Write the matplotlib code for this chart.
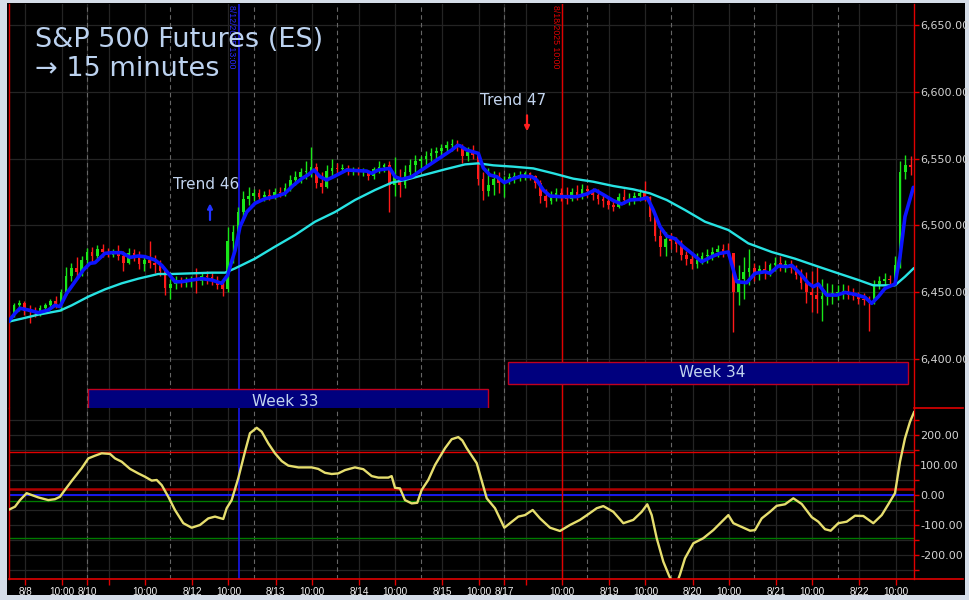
import numpy as np
import matplotlib
matplotlib.use("Agg")
import matplotlib.pyplot as plt
from matplotlib.patches import Rectangle
from matplotlib.lines import Line2D

# ---------------- DATA ----------------
# time axis unit: one trading session (18:00 -> 17:00, 23 h); session 0 starts Sun 8/10 18:00
candle_step = 1 / 16  # one candle per 1/16 session
candle_first_t = -15 / 16
candle_open0 = 6430
candle_close = [
    6434, 6440, 6442, 6436, 6435, 6434, 6438, 6440, 6443, 6440,
    6450, 6462, 6468, 6465, 6474, 6480, 6477, 6482, 6480, 6478,
    6480, 6477, 6472, 6479, 6477, 6471, 6474, 6472, 6470, 6466,
    6453, 6456, 6458, 6457, 6459, 6460, 6458, 6462, 6461, 6458,
    6455, 6452, 6488, 6495, 6510, 6520, 6522, 6524, 6521, 6523,
    6521, 6525, 6524, 6528, 6534, 6536, 6540, 6541, 6544, 6532,
    6529, 6541, 6543, 6542, 6543, 6541, 6542, 6540, 6540, 6537,
    6542, 6544, 6545, 6530, 6536, 6530, 6540, 6545, 6548, 6550,
    6552, 6554, 6556, 6558, 6560, 6561, 6559, 6552, 6555, 6553,
    6535, 6526, 6530, 6535, 6532, 6534, 6536, 6537, 6538, 6539,
    6537, 6532, 6522, 6518, 6522, 6524, 6522, 6520, 6525, 6523,
    6527, 6526, 6523, 6520, 6518, 6515, 6514, 6521, 6519, 6520,
    6522, 6524, 6521, 6506, 6492, 6484, 6490, 6488, 6486, 6478,
    6475, 6471, 6474, 6477, 6478, 6480, 6482, 6480, 6479, 6450,
    6460, 6465, 6468, 6464, 6467, 6465, 6470, 6472, 6470, 6471,
    6468, 6463, 6457, 6450, 6448, 6445, 6447, 6448, 6449, 6450,
    6451, 6448, 6447, 6445, 6444, 6442, 6456, 6458, 6460, 6459,
    6470, 6540, 6545, 6544]
candle_high = [
    6436, 6442, 6444, 6443, 6440, 6439, 6440, 6442, 6445, 6447,
    6452, 6469, 6472, 6476, 6477, 6483, 6484, 6485, 6486, 6483,
    6482, 6485, 6481, 6483, 6482, 6481, 6478, 6488, 6478, 6474,
    6467, 6460, 6462, 6461, 6461, 6462, 6468, 6464, 6466, 6465,
    6462, 6458, 6499, 6500, 6514, 6526, 6529, 6527, 6527, 6526,
    6527, 6528, 6529, 6532, 6538, 6541, 6543, 6548, 6559, 6547,
    6540, 6545, 6550, 6547, 6546, 6545, 6544, 6544, 6543, 6541,
    6544, 6548, 6547, 6548, 6551, 6542, 6545, 6550, 6553, 6552,
    6556, 6558, 6559, 6561, 6563, 6565, 6564, 6561, 6559, 6560,
    6555, 6540, 6543, 6541, 6540, 6537, 6539, 6540, 6541, 6541,
    6540, 6538, 6534, 6527, 6526, 6528, 6528, 6529, 6528, 6530,
    6531, 6530, 6528, 6527, 6524, 6522, 6520, 6524, 6527, 6524,
    6525, 6527, 6533, 6522, 6508, 6497, 6495, 6494, 6491, 6489,
    6481, 6480, 6479, 6480, 6482, 6484, 6485, 6486, 6487, 6479,
    6470, 6476, 6482, 6472, 6470, 6473, 6472, 6476, 6477, 6474,
    6474, 6470, 6467, 6465, 6466, 6469, 6460, 6457, 6456, 6455,
    6456, 6455, 6453, 6450, 6449, 6447, 6459, 6462, 6464, 6463,
    6477, 6548, 6553, 6552]
candle_low = [
    6427, 6431, 6436, 6433, 6427, 6431, 6432, 6435, 6437, 6438,
    6436, 6448, 6458, 6460, 6462, 6470, 6472, 6474, 6476, 6476,
    6476, 6474, 6466, 6471, 6473, 6467, 6466, 6468, 6464, 6462,
    6448, 6445, 6452, 6454, 6454, 6454, 6449, 6455, 6456, 6455,
    6452, 6447, 6450, 6472, 6490, 6504, 6515, 6518, 6518, 6518,
    6519, 6520, 6521, 6522, 6526, 6530, 6532, 6535, 6536, 6528,
    6524, 6528, 6537, 6539, 6539, 6538, 6538, 6538, 6537, 6534,
    6535, 6539, 6540, 6510, 6522, 6521, 6528, 6537, 6540, 6541,
    6544, 6547, 6550, 6552, 6555, 6556, 6556, 6547, 6548, 6550,
    6530, 6519, 6522, 6523, 6524, 6521, 6531, 6532, 6533, 6534,
    6534, 6528, 6517, 6514, 6516, 6518, 6518, 6516, 6518, 6519,
    6520, 6521, 6519, 6516, 6514, 6512, 6511, 6513, 6516, 6515,
    6516, 6518, 6518, 6503, 6488, 6477, 6477, 6482, 6480, 6474,
    6470, 6467, 6468, 6471, 6472, 6474, 6476, 6476, 6477, 6420,
    6440, 6445, 6455, 6458, 6459, 6460, 6462, 6466, 6466, 6465,
    6464, 6460, 6452, 6442, 6435, 6434, 6428, 6440, 6441, 6444,
    6445, 6445, 6444, 6441, 6440, 6421, 6441, 6452, 6455, 6455,
    6455, 6468, 6535, 6538]

fast_ma_t = [-0.944, -0.863, -0.803, -0.704, -0.584, -0.464, -0.384, -0.324, -0.243, -0.144,
             -0.044, 0.036, 0.096, 0.216, 0.296, 0.416, 0.516, 0.615, 0.695, 0.815,
             0.896, 0.975, 1.055, 1.135, 1.255, 1.375, 1.495, 1.615, 1.687, 1.740,
             1.775, 1.835, 1.915, 2.014, 2.134, 2.254, 2.374, 2.474, 2.574, 2.654,
             2.722, 2.794, 2.874, 2.974, 3.114, 3.253, 3.354, 3.414, 3.493, 3.633,
             3.693, 3.773, 3.893, 4.013, 4.133, 4.253, 4.373, 4.445, 4.472, 4.553,
             4.692, 4.752, 4.832, 4.913, 5.004, 5.112, 5.212, 5.332, 5.392, 5.471,
             5.552, 5.671, 5.872, 5.992, 6.091, 6.191, 6.311, 6.411, 6.511, 6.631,
             6.718, 6.790, 6.871, 6.951, 7.050, 7.150, 7.251, 7.370, 7.490, 7.590,
             7.690, 7.750, 7.790, 7.910, 8.010, 8.129, 8.189, 8.289, 8.390, 8.450,
             8.549, 8.649, 8.709, 8.769, 8.869, 8.989, 9.089, 9.209, 9.329, 9.409,
             9.488, 9.568, 9.688, 9.748, 9.808, 9.908]
fast_ma = [6427.7, 6434, 6437.8, 6436.5, 6434.5, 6436.5, 6440, 6439, 6449, 6457.7,
           6466.5, 6471.5, 6472, 6479, 6479.5, 6479.5, 6476, 6477, 6476.5, 6474,
           6470, 6464, 6457.7, 6457.7, 6459, 6460, 6459, 6456.5, 6462.7, 6474,
           6481, 6499, 6510, 6516.5, 6520, 6521.5, 6524, 6530, 6535, 6538,
           6541.5, 6536.5, 6534, 6537, 6541.5, 6541, 6540.7, 6539, 6541.5, 6542.7,
           6536.5, 6534.5, 6536.5, 6541.5, 6546.5, 6551.5, 6556.5, 6560, 6559.7, 6556.5,
           6554, 6543, 6537.7, 6536.5, 6532, 6535, 6537, 6536.5, 6534, 6526.5,
           6522, 6521.5, 6521.5, 6523.5, 6526.5, 6523, 6518.5, 6516, 6519, 6519.5,
           6520.7, 6511.5, 6499, 6492, 6490, 6484, 6479, 6472.7, 6476.5, 6479,
           6480, 6466.5, 6457.7, 6457, 6464, 6465.2, 6464, 6469.5, 6469, 6470,
           6464, 6456.5, 6454, 6456, 6447.7, 6447.7, 6449.7, 6448.2, 6446, 6441.5,
           6446.5, 6452.7, 6456, 6476.5, 6506.5, 6528.5]

slow_ma_t = [-0.944, -0.783, -0.584, -0.324, -0.183, 0.016, 0.216, 0.416, 0.615, 0.855,
             1.016, 1.255, 1.495, 1.655, 1.775, 2.014, 2.254, 2.494, 2.734, 2.974,
             3.213, 3.453, 3.653, 3.813, 4.053, 4.293, 4.532, 4.692, 4.872, 5.112,
             5.352, 5.591, 5.831, 6.071, 6.311, 6.550, 6.751, 6.951, 7.170, 7.410,
             7.690, 7.929, 8.210, 8.489, 8.769, 9.008, 9.249, 9.428, 9.688, 9.808,
             9.916]
slow_ma = [6427.7, 6430, 6433, 6436, 6440, 6446.5, 6452, 6456.5, 6460, 6463.5,
           6463.5, 6464, 6464.5, 6464.5, 6467.7, 6475, 6484, 6492.7, 6502.7, 6510,
           6519, 6526.5, 6532, 6534, 6538, 6542, 6545.7, 6546.5, 6545, 6544,
           6542.7, 6539, 6535, 6532.7, 6529.5, 6527, 6524, 6519, 6511.5, 6502.7,
           6496.5, 6486.5, 6480, 6475, 6469, 6464, 6459, 6455, 6455, 6461.5,
           6468]

osc_t = [-0.944, -0.863, -0.803, -0.723, -0.663, -0.584, -0.464, -0.384, -0.324, -0.264,
         -0.183, -0.064, 0.016, 0.096, 0.176, 0.276, 0.336, 0.416, 0.516, 0.615,
         0.695, 0.776, 0.836, 0.896, 0.975, 1.055, 1.155, 1.255, 1.355, 1.454,
         1.535, 1.634, 1.675, 1.735, 1.814, 1.894, 1.954, 2.035, 2.095, 2.174,
         2.254, 2.335, 2.414, 2.534, 2.694, 2.773, 2.854, 2.934, 3.013, 3.094,
         3.213, 3.313, 3.414, 3.493, 3.613, 3.653, 3.693, 3.753, 3.813, 3.893,
         3.960, 4.013, 4.092, 4.173, 4.293, 4.373, 4.452, 4.500, 4.553, 4.673,
         4.793, 4.892, 5.004, 5.072, 5.172, 5.252, 5.344, 5.432, 5.552, 5.671,
         5.791, 5.911, 6.011, 6.112, 6.191, 6.311, 6.431, 6.550, 6.651, 6.718,
         6.771, 6.831, 6.910, 6.978, 7.050, 7.110, 7.170, 7.270, 7.390, 7.510,
         7.610, 7.690, 7.750, 7.869, 7.950, 8.010, 8.090, 8.189, 8.270, 8.369,
         8.469, 8.570, 8.690, 8.769, 8.849, 8.917, 9.008, 9.109, 9.209, 9.308,
         9.428, 9.529, 9.628, 9.688, 9.748, 9.808, 9.868, 9.916]
osc = [-50, -39, -17, 6, 0, -8, -17, -14, -6, 17,
       47, 89, 122, 131, 139, 137, 122, 111, 87, 72,
       61, 48, 50, 33, -6, -50, -94, -109, -100, -78,
       -72, -80, -44, -17, 56, 144, 206, 224, 211, 172,
       139, 113, 98, 92, 92, 87, 74, 70, 72, 83,
       92, 86, 63, 58, 58, 63, 24, 22, -17, -28,
       -26, 17, 50, 100, 156, 186, 193, 182, 156, 106,
       -11, -44, -109, -94, -72, -67, -50, -78, -109, -120,
       -100, -83, -64, -44, -37, -56, -94, -83, -56, -31,
       -67, -144, -222, -268, -310, -265, -211, -161, -144, -117,
       -89, -67, -94, -109, -119, -117, -78, -56, -36, -31,
       -11, -30, -74, -89, -114, -119, -94, -89, -69, -70,
       -94, -67, -22, 6, 111, 189, 244, 276]
osc_levels = [142, 21, 0, -21, -144]

# x-axis ticks: (label, session index, hours after 18:00 session open)
tick_labels = ["8/8", "10:00", "8/10", "", "10:00", "8/12", "10:00", "8/13", "10:00",
               "8/14", "10:00", "8/15", "10:00", "8/17", "", "10:00", "8/19", "10:00",
               "8/20", "10:00", "8/21", "10:00", "8/22", "10:00"]
tick_session = [-1, -1, 0, 0, 0, 1, 1, 2, 2, 3, 3, 4, 4, 5, 5, 5, 6, 6, 7, 7, 8, 8, 9, 9]
tick_hours = [6, 16, 0, 6, 16, 6, 16, 6, 16, 6, 16, 6, 16, 0, 6, 16, 6, 16, 6, 16, 6, 16, 6, 16]
session_hours = 23

price_ticks = [6400, 6450, 6500, 6550, 6600, 6650]
osc_ticks = [-200, -100, 0, 100, 200]

# event markers: (session, hours after open)
marker_blue = (1, 19)   # 8/12/2025 13:00
marker_red = (5, 16)    # 8/18/2025 10:00

# ---------------- FIGURE ----------------
W, H = 970, 600
fig = plt.figure(figsize=(W / 100, H / 100), dpi=100)
fig.patch.set_facecolor("#d5dde8")
fig.add_artist(Rectangle((7 / W, 1 - 595 / H), (965 - 7) / W, (595 - 3) / H,
                         transform=fig.transFigure, facecolor="black", edgecolor="none", zorder=0))

left_px, right_px = 9.5, 914
top_px, mid_px, bot_px = 4, 408, 579
ax1 = fig.add_axes([left_px / W, 1 - mid_px / H, (right_px - left_px) / W, (mid_px - top_px) / H])
ax2 = fig.add_axes([left_px / W, 1 - bot_px / H, (right_px - left_px) / W, (bot_px - mid_px) / H])

xlim = (-0.929, 9.916)
for ax in (ax1, ax2):
    ax.set_facecolor("black")
    ax.set_xlim(*xlim)
    for s in ("top", "bottom"):
        ax.spines[s].set_visible(False)
    ax.spines["left"].set_color("#e00000")
    ax.spines["right"].set_color("#e00000")
    ax.spines["left"].set_linewidth(1.0)
    ax.spines["right"].set_linewidth(1.0)

ax1.set_ylim(6363, 6666)
ax2.set_ylim(-280, 290)

tick_t = [s + h / session_hours for s, h in zip(tick_session, tick_hours)]

# grids
grid_col = "#242424"
for ax in (ax1, ax2):
    for t in tick_t:
        ax.axvline(t, color=grid_col, lw=0.9, zorder=0.5)
    for s in range(0, 10):
        ax.axvline(s, color="#666666", lw=0.8, ls=(0, (4, 3)), zorder=0.6)
for p in range(6400, 6666, 50):
    ax1.axhline(p, color=grid_col, lw=0.9, zorder=0.5)
for v in range(-250, 300, 50):
    ax2.axhline(v, color=grid_col, lw=0.9, zorder=0.5)

# candles
c = np.array(candle_close, float)
hi = np.array(candle_high, float)
lo = np.array(candle_low, float)
o = np.concatenate([[candle_open0], c[:-1]])
tc = candle_first_t + np.arange(len(c)) * candle_step
up = c >= o
cols = np.where(up, "#19e619", "#ff1a1a")
ax1.vlines(tc, lo, hi, colors=cols, lw=1.0, zorder=2)
ax1.bar(tc, np.maximum(np.abs(c - o), 0.6), bottom=np.minimum(o, c), width=candle_step * 0.5,
        color=cols, linewidth=0, zorder=2)

ax1.plot(slow_ma_t, slow_ma, color="#27e3e3", lw=1.7, zorder=3, solid_capstyle="round")
ax1.plot(fast_ma_t, fast_ma, color="#0c14ff", lw=2.6, zorder=4, solid_capstyle="round")

# oscillator
lvl_style = {142: ("#e00000", 1.0), 21: ("#b00000", 1.8), 0: ("#1a1aff", 1.3),
             -21: ("#007a00", 1.0), -144: ("#007a00", 1.0)}
for lv in osc_levels:
    col, lw = lvl_style[lv]
    ax2.axhline(lv, color=col, lw=lw, zorder=1)
ax2.plot(osc_t, osc, color="#e6de6e", lw=1.7, zorder=4)

# event vertical markers
tb = marker_blue[0] + marker_blue[1] / session_hours
tr = marker_red[0] + marker_red[1] / session_hours
for ax in (ax1, ax2):
    ax.axvline(tb, color="#1a1aff", lw=1.1, zorder=1.5)
    ax.axvline(tr, color="#e00000", lw=1.0, zorder=1.5)
ax1.annotate("8/12/2025 13:00", xy=(tb, 1), xycoords=("data", "axes fraction"),
             xytext=(-2.5, -1), textcoords="offset points", rotation=270,
             ha="right", va="top", fontsize=6.3, color="#2a2aff", family="Liberation Sans")
ax1.annotate("8/18/2025 10:00", xy=(tr, 1), xycoords=("data", "axes fraction"),
             xytext=(-1.5, -1), textcoords="offset points", rotation=270,
             ha="right", va="top", fontsize=6.3, color="#e00000", family="Liberation Sans")

# week boxes
txtcol = "#c2d4ee"
ax1.add_patch(Rectangle((0.012, 6360.5), 4.808 - 0.012, 6377 - 6360.5, facecolor="#00007e",
                        edgecolor="#c00020", lw=1.0, zorder=5))
ax1.text(2.374, 6368.0, "Week 33", color=txtcol, fontsize=11, ha="center", va="center", zorder=6)
ax1.add_patch(Rectangle((5.05, 6381), 9.845 - 5.05, 6397.7 - 6381, facecolor="#00007e",
                        edgecolor="#c00020", lw=1.0, zorder=5))
ax1.text(7.494, 6389.4, "Week 34", color=txtcol, fontsize=11, ha="center", va="center", zorder=6)

# trend annotations
ax1.text(1.427, 6527.5, "Trend 46", color=txtcol, fontsize=11, ha="center", va="baseline", zorder=6)
ax1.annotate("", xy=(1.475, 6516.5), xytext=(1.475, 6504),
             arrowprops=dict(arrowstyle="-|>", color="#2233ff", lw=1.6, mutation_scale=7,
                             shrinkA=0, shrinkB=0), zorder=6)
ax1.text(5.108, 6590.5, "Trend 47", color=txtcol, fontsize=11, ha="center", va="baseline", zorder=6)
ax1.annotate("", xy=(5.276, 6570.5), xytext=(5.276, 6582.5),
             arrowprops=dict(arrowstyle="-|>", color="#ff2020", lw=1.6, mutation_scale=7,
                             shrinkA=0, shrinkB=0), zorder=6)

# title
fig.text(35 / W, 1 - 47 / H, "S&P 500 Futures (ES)", color="#bcd2ef", fontsize=19.5,
         ha="left", va="baseline", family="DejaVu Sans")
fig.text(35 / W, 1 - 76 / H, "\u2192 15 minutes", color="#bcd2ef", fontsize=19.5,
         ha="left", va="baseline", family="DejaVu Sans")

# axes ticks
ax1.yaxis.tick_right()
ax1.set_yticks(price_ticks)
ax1.set_yticklabels([f"{p:,.2f}" for p in price_ticks])
ax1.tick_params(axis="y", colors="#e00000", labelcolor="#d2d2d2", length=3.5, width=1,
                labelsize=8, pad=1)
ax1.set_xticks([])

ax2.yaxis.tick_right()
ax2.set_yticks(osc_ticks)
ax2.set_yticklabels([f"{v:.2f}" for v in osc_ticks])
ax2.set_yticks(range(-250, 300, 50), minor=True)
ax2.tick_params(axis="y", which="both", colors="#e00000", labelcolor="#d2d2d2", length=3.5,
                width=1, labelsize=8, pad=1)
ax2.set_xticks(tick_t)
ax2.set_xticklabels(tick_labels, family="Liberation Sans")
ax2.tick_params(axis="x", colors="#e00000", labelcolor="#f2f2f2", length=4, width=1,
                labelsize=7.2, pad=1.5)

# axis border lines outside plot area
fig.add_artist(Line2D([left_px / W, 963 / W], [1 - bot_px / H] * 2, color="#e00000", lw=1.2,
                      transform=fig.transFigure))
fig.add_artist(Line2D([right_px / W, 963 / W], [1 - mid_px / H] * 2, color="#e00000", lw=1.2,
                      transform=fig.transFigure))

fig.savefig("out.png", dpi=100, facecolor=fig.get_facecolor())
